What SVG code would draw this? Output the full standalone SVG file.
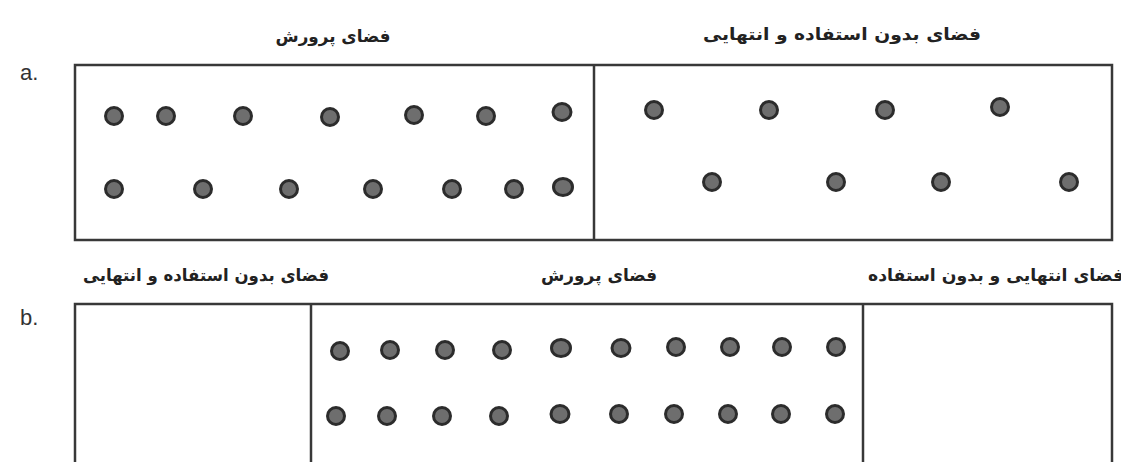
<svg xmlns="http://www.w3.org/2000/svg" width="1121" height="462" viewBox="0 0 1121 462">
<style>
.frame{fill:none;stroke:#383838;stroke-width:2.5}
.div{stroke:#383838;stroke-width:2.5}
.dot{fill:#6e6e6e;stroke:#2c2c2c;stroke-width:3}
.lbl{font-family:"DejaVu Sans",sans-serif;font-weight:bold;font-size:17px;fill:#222;text-anchor:middle}
.tag{font-family:"Liberation Sans",Arial,sans-serif;font-size:22px;fill:#333}
</style>
<rect width="1121" height="462" fill="#ffffff"/>
<g id="panel-a">
  <text class="tag" x="20" y="80">a.</text>
  <rect class="frame" x="75" y="65" width="1037" height="175"/>
  <line class="div" x1="594" y1="65" x2="594" y2="240"/>
  <g id="a-growth">
    <text class="lbl" x="333" y="42" textLength="115" lengthAdjust="spacingAndGlyphs">فضای پرورش</text>
    <circle class="dot" cx="114" cy="116" r="8.5"/>
    <circle class="dot" cx="166" cy="116" r="8.5"/>
    <circle class="dot" cx="243" cy="116" r="8.5"/>
    <circle class="dot" cx="330" cy="117" r="8.5"/>
    <circle class="dot" cx="414" cy="115" r="8.5"/>
    <circle class="dot" cx="486" cy="116" r="8.5"/>
    <ellipse class="dot" cx="562" cy="112" rx="9" ry="8.5"/>
    <circle class="dot" cx="114" cy="189" r="8.5"/>
    <circle class="dot" cx="203" cy="189" r="8.5"/>
    <circle class="dot" cx="289" cy="189" r="8.5"/>
    <circle class="dot" cx="373" cy="189" r="8.5"/>
    <circle class="dot" cx="452" cy="189" r="8.5"/>
    <circle class="dot" cx="514" cy="189" r="8.5"/>
    <ellipse class="dot" cx="563" cy="187" rx="9.5" ry="8.5"/>
  </g>
  <g id="a-unused">
    <text class="lbl" x="842" y="40" textLength="278" lengthAdjust="spacingAndGlyphs">فضای بدون استفاده و انتهایی</text>
    <circle class="dot" cx="654" cy="110" r="8.5"/>
    <circle class="dot" cx="769" cy="110" r="8.5"/>
    <circle class="dot" cx="885" cy="110" r="8.5"/>
    <circle class="dot" cx="1000" cy="107" r="8.5"/>
    <circle class="dot" cx="712" cy="182" r="8.5"/>
    <circle class="dot" cx="836" cy="182" r="8.5"/>
    <circle class="dot" cx="941" cy="182" r="8.5"/>
    <circle class="dot" cx="1069" cy="182" r="8.5"/>
  </g>
</g>
<g id="panel-b">
  <text class="tag" x="20" y="325">b.</text>
  <rect class="frame" x="75" y="304" width="1037" height="180"/>
  <line class="div" x1="311" y1="304" x2="311" y2="462"/>
  <line class="div" x1="863" y1="304" x2="863" y2="462"/>
  <g id="b-unused-left">
    <text class="lbl" x="206" y="281" textLength="246" lengthAdjust="spacingAndGlyphs">فضای بدون استفاده و انتهایی</text>
  </g>
  <g id="b-growth">
    <text class="lbl" x="599" y="281" textLength="116" lengthAdjust="spacingAndGlyphs">فضای پرورش</text>
    <circle class="dot" cx="340" cy="351" r="8.5"/>
    <circle class="dot" cx="390" cy="350" r="8.5"/>
    <circle class="dot" cx="445" cy="350" r="8.5"/>
    <circle class="dot" cx="502" cy="350" r="8.5"/>
    <ellipse class="dot" cx="561" cy="348" rx="9.5" ry="8.5"/>
    <ellipse class="dot" cx="621" cy="348" rx="9" ry="8.5"/>
    <circle class="dot" cx="676" cy="347" r="8.5"/>
    <circle class="dot" cx="730" cy="347" r="8.5"/>
    <circle class="dot" cx="782" cy="347" r="8.5"/>
    <circle class="dot" cx="836" cy="347" r="8.5"/>
    <circle class="dot" cx="336" cy="416" r="8.5"/>
    <circle class="dot" cx="387" cy="416" r="8.5"/>
    <circle class="dot" cx="442" cy="416" r="8.5"/>
    <circle class="dot" cx="499" cy="416" r="8.5"/>
    <ellipse class="dot" cx="560" cy="414" rx="9" ry="8.5"/>
    <circle class="dot" cx="619" cy="414" r="8.5"/>
    <circle class="dot" cx="674" cy="414" r="8.5"/>
    <circle class="dot" cx="728" cy="414" r="8.5"/>
    <circle class="dot" cx="781" cy="414" r="8.5"/>
    <circle class="dot" cx="835" cy="414" r="8.5"/>
  </g>
  <g id="b-unused-right">
    <text class="lbl" x="996" y="281" textLength="256" lengthAdjust="spacingAndGlyphs">فضای انتهایی و بدون استفاده</text>
  </g>
</g>
</svg>
